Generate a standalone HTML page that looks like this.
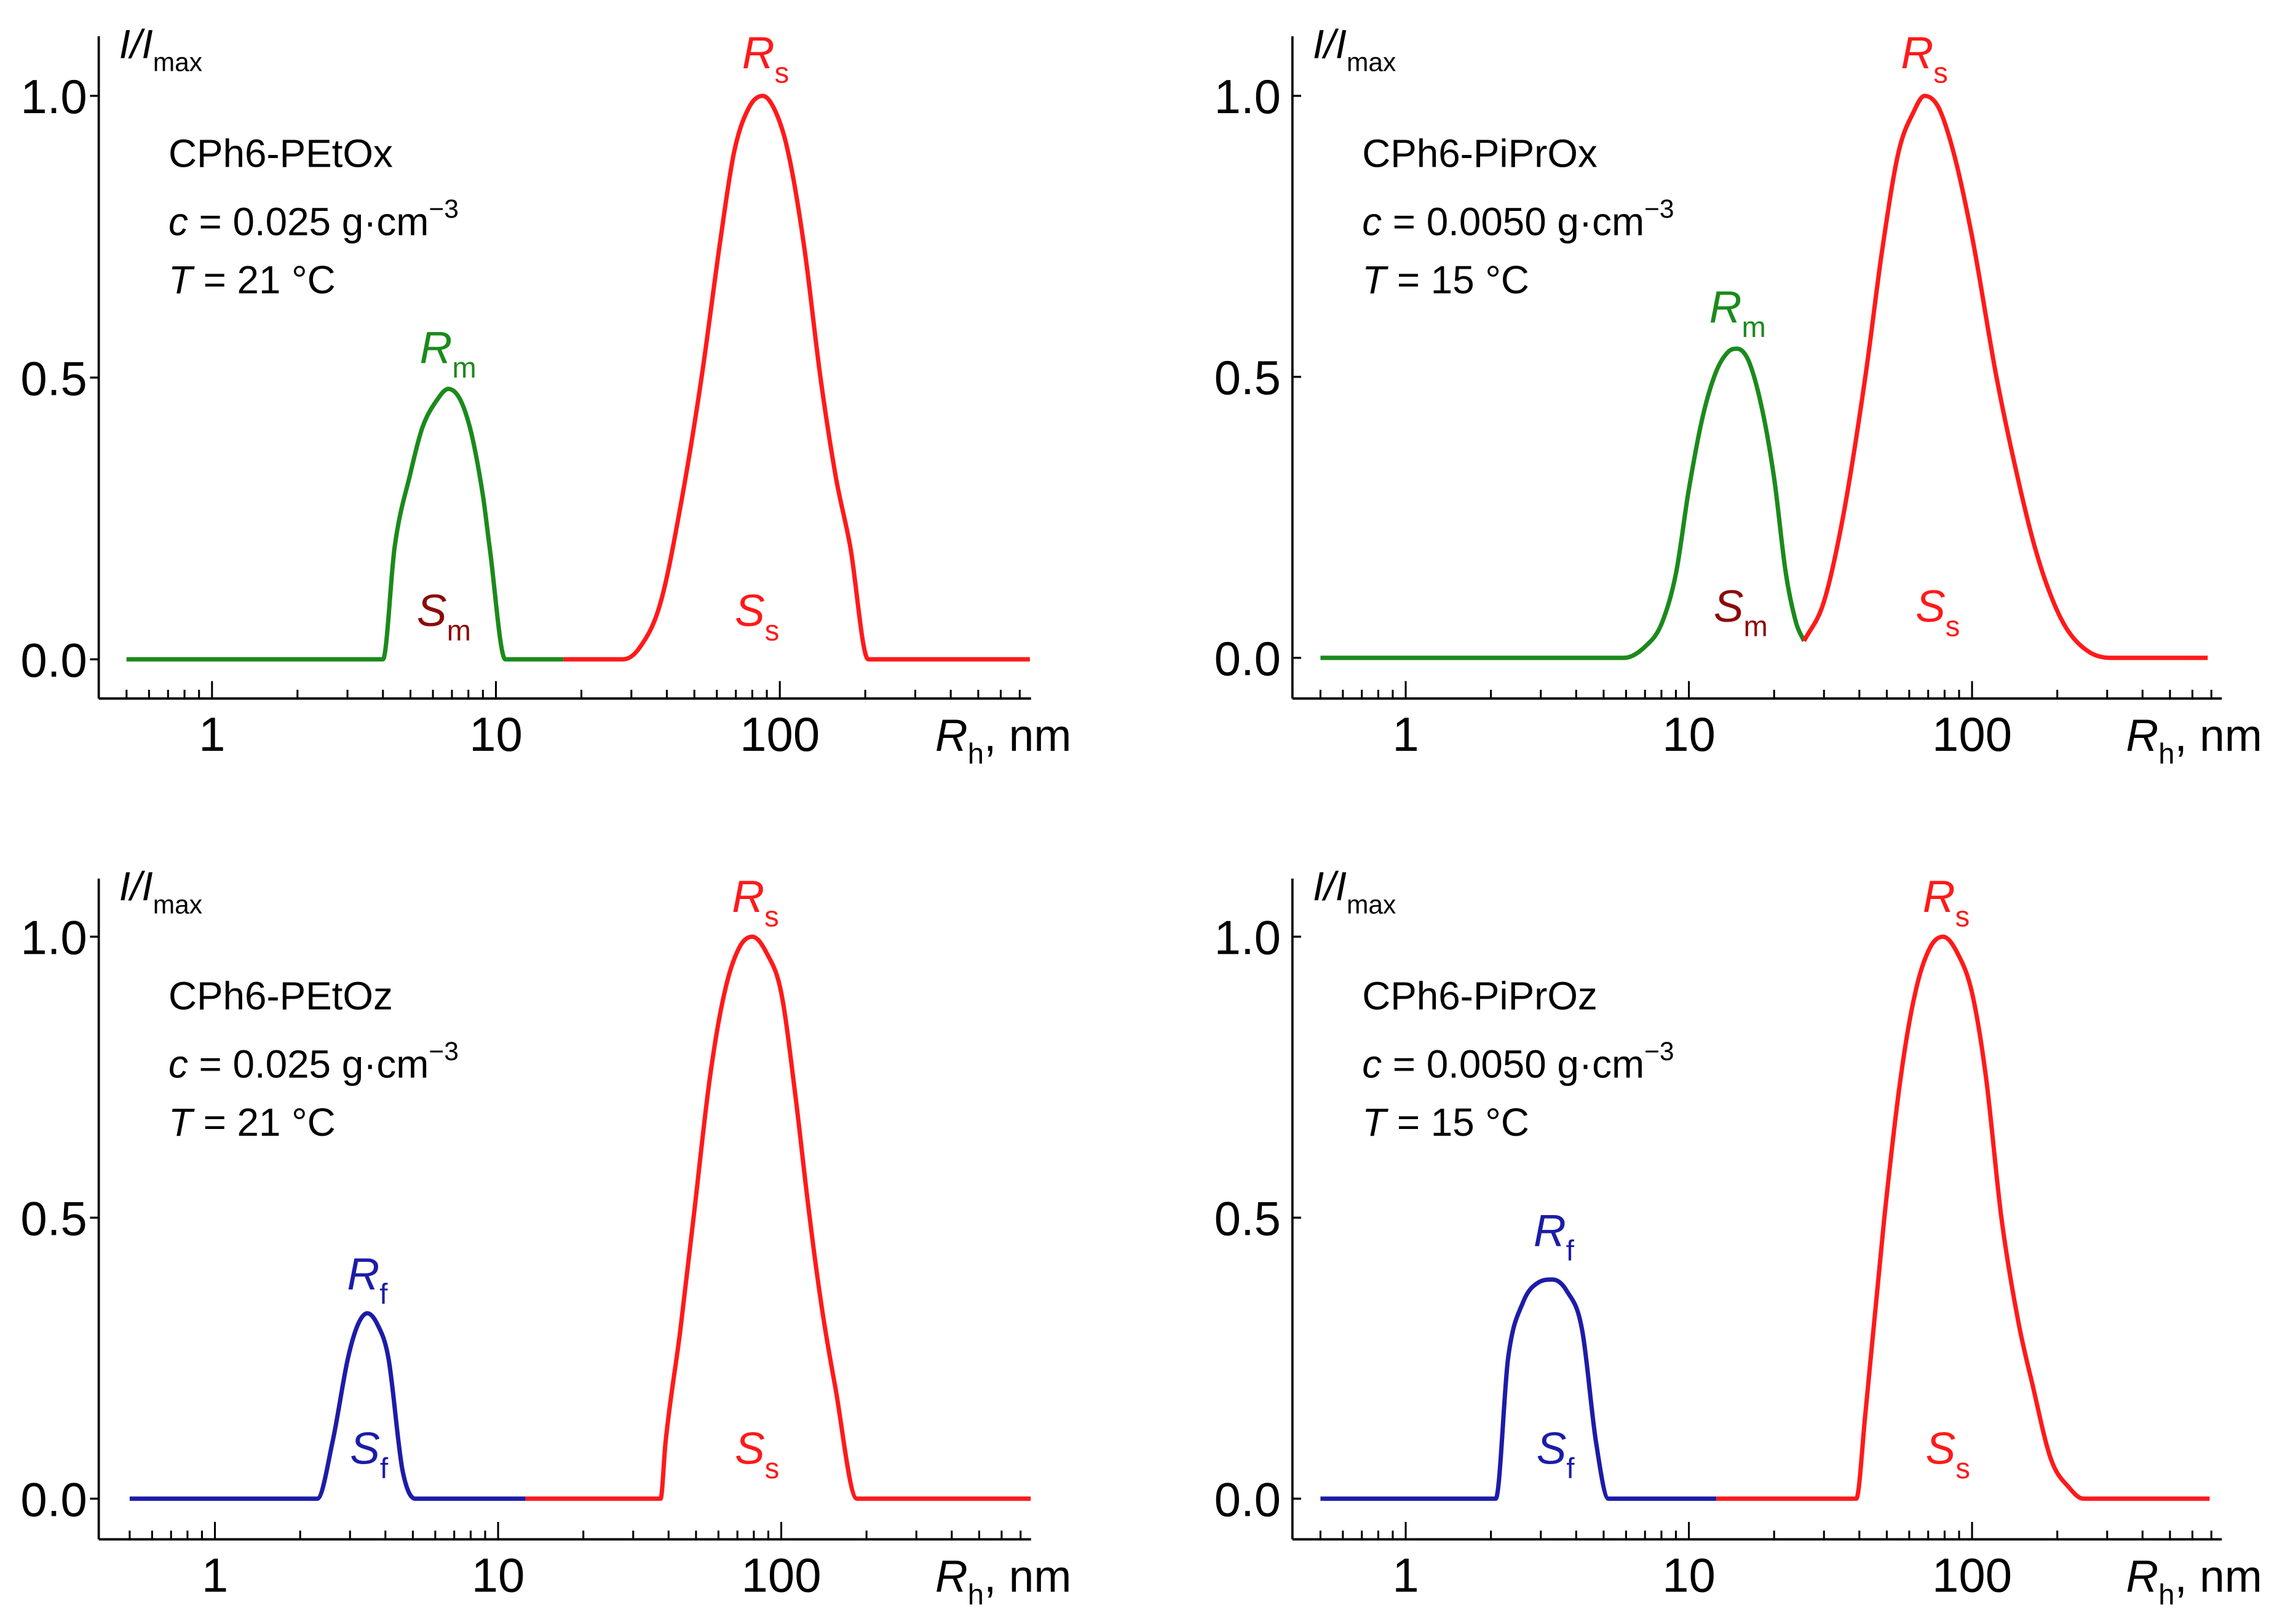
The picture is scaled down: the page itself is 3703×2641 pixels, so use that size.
<!DOCTYPE html>
<html><head><meta charset="utf-8"><style>
html,body{margin:0;padding:0;background:#fff}
svg{display:block}
text{font-family:"Liberation Sans",Arial,sans-serif}
</style></head><body>
<svg id="fig" width="3703" height="2641" viewBox="0 0 1568 1118.3" xmlns="http://www.w3.org/2000/svg"></svg>
<script>
// Data: log-spaced Rh (nm) and normalized intensity per curve segment
const p1GreenR = [0.5, 4.0, 4.4, 5.0, 5.5, 6.2, 6.8, 7.5, 8.2, 9.0, 9.5, 10.8, 17.3];
const p1GreenI = [0, 0, 0.2, 0.33, 0.41, 0.46, 0.48, 0.46, 0.4, 0.29, 0.2, 0, 0];
const p1RedR = [17.3, 28, 32, 38, 45, 53, 62, 69, 78, 87, 97, 107, 122, 139, 158, 177, 205, 760];
const p1RedI = [0, 0, 0.02, 0.1, 0.28, 0.5, 0.75, 0.9, 0.98, 1.0, 0.97, 0.9, 0.73, 0.5, 0.32, 0.2, 0, 0];

const p2GreenR = [0.5, 5.9, 7.0, 8.0, 9.0, 10.0, 11.2, 12.5, 13.8, 14.8, 16.2, 18, 20, 22, 24, 25.5];
const p2GreenI = [0, 0, 0.02, 0.06, 0.15, 0.3, 0.43, 0.51, 0.545, 0.55, 0.53, 0.45, 0.32, 0.15, 0.06, 0.03];
const p2RedR = [25.5, 30, 35, 42, 48, 55, 62, 68, 76, 86, 100, 122, 145, 166, 190, 217, 260, 310, 680];
const p2RedI = [0.03, 0.1, 0.25, 0.5, 0.72, 0.9, 0.97, 1.0, 0.98, 0.9, 0.75, 0.5, 0.32, 0.2, 0.11, 0.05, 0.01, 0, 0];

const p3BlueR = [0.5, 2.3, 2.6, 2.95, 3.2, 3.45, 3.75, 4.1, 4.6, 5.1, 12.5];
const p3BlueI = [0, 0, 0.1, 0.25, 0.31, 0.33, 0.31, 0.25, 0.05, 0, 0];
const p3RedR = [12.5, 37.5, 39, 44, 49, 56, 63, 71, 79, 89, 100, 112, 126, 140, 155, 185, 760];
const p3RedI = [0, 0, 0.1, 0.3, 0.5, 0.75, 0.9, 0.98, 1.0, 0.97, 0.9, 0.72, 0.5, 0.33, 0.2, 0, 0];

const p4BlueR = [0.5, 2.08, 2.3, 2.6, 2.95, 3.3, 3.7, 4.2, 4.7, 5.2, 12.5];
const p4BlueI = [0, 0, 0.25, 0.35, 0.385, 0.39, 0.37, 0.3, 0.1, 0, 0];
const p4RedR = [12.5, 39, 42, 49, 56, 63, 71, 79, 89, 100, 112, 127, 145, 164, 190, 220, 247, 690];
const p4RedI = [0, 0, 0.15, 0.5, 0.75, 0.9, 0.98, 1.0, 0.97, 0.9, 0.75, 0.5, 0.32, 0.2, 0.07, 0.02, 0, 0];

const yTickValues = [0, 0.5, 1.0];
const yTickLabels = ["0.0", "0.5", "1.0"];
const xTickValues = [1, 10, 100];
const xTickLabels = ["1", "10", "100"];

const RED = "#ff1a1a", GREEN = "#1b8a1b", BLUE = "#1c1ca8", DARKRED = "#8b0b0b";
const NS = "http://www.w3.org/2000/svg";
const svg = document.getElementById("fig");

function el(tag, attrs, parent) {
  const e = document.createElementNS(NS, tag);
  for (const k in attrs) e.setAttribute(k, attrs[k]);
  (parent || svg).appendChild(e);
  return e;
}

// monotone cubic path through screen points
function monoPath(X, Y) {
  const n = X.length;
  const d = [], m = [];
  for (let i = 0; i < n - 1; i++) d.push((Y[i+1]-Y[i])/(X[i+1]-X[i]));
  m[0] = d[0]; m[n-1] = d[n-2];
  for (let i = 1; i < n - 1; i++) m[i] = (d[i-1]*d[i] <= 0) ? 0 : (d[i-1]+d[i])/2;
  for (let i = 0; i < n - 1; i++) {
    if (d[i] === 0) { m[i] = 0; m[i+1] = 0; continue; }
    const a = m[i]/d[i], b = m[i+1]/d[i], s = a*a + b*b;
    if (s > 9) { const t = 3/Math.sqrt(s); m[i] = t*a*d[i]; m[i+1] = t*b*d[i]; }
  }
  let p = "M" + X[0].toFixed(1) + "," + Y[0].toFixed(1);
  for (let i = 0; i < n - 1; i++) {
    const h = (X[i+1]-X[i])/3;
    p += " C" + (X[i]+h).toFixed(1) + "," + (Y[i]+m[i]*h).toFixed(1) + " " +
         (X[i+1]-h).toFixed(1) + "," + (Y[i+1]-m[i+1]*h).toFixed(1) + " " +
         X[i+1].toFixed(1) + "," + Y[i+1].toFixed(1);
  }
  return p;
}

const panels = [
  {id:"top-left", ax:68, top:25, right:710, xAxisY:481, x1:146, dec:195.5, y0:454, y1:66, ytickIn:false,
   series:[[p1GreenR,p1GreenI,GREEN,"green-curve"],[p1RedR,p1RedI,RED,"red-curve"]],
   name:"CPh6-PEtOx", conc:"0.025", temp:"21",
   labels:[["R","m",GREEN,289,250],["S","m",DARKRED,287,431],["R","s",RED,511,47],["S","s",RED,506,431]]},
  {id:"top-right", ax:890, top:25, right:1530, xAxisY:481, x1:968, dec:195, y0:453, y1:66, ytickIn:true,
   series:[[p2GreenR,p2GreenI,GREEN,"green-curve"],[p2RedR,p2RedI,RED,"red-curve"]],
   name:"CPh6-PiPrOx", conc:"0.0050", temp:"15",
   labels:[["R","m",GREEN,1177,222],["S","m",DARKRED,1180,428],["R","s",RED,1309,47],["S","s",RED,1319,428]]},
  {id:"bottom-left", ax:68, top:605, right:710, xAxisY:1060, x1:148, dec:195, y0:1032, y1:645, ytickIn:false,
   series:[[p3BlueR,p3BlueI,BLUE,"blue-curve"],[p3RedR,p3RedI,RED,"red-curve"]],
   name:"CPh6-PEtOz", conc:"0.025", temp:"21",
   labels:[["R","f",BLUE,239,888],["S","f",BLUE,241,1008],["R","s",RED,504,628],["S","s",RED,506,1008]]},
  {id:"bottom-right", ax:890, top:605, right:1530, xAxisY:1060, x1:968, dec:195, y0:1032, y1:645, ytickIn:true,
   series:[[p4BlueR,p4BlueI,BLUE,"blue-curve"],[p4RedR,p4RedI,RED,"red-curve"]],
   name:"CPh6-PiPrOz", conc:"0.0050", temp:"15",
   labels:[["R","f",BLUE,1056,858],["S","f",BLUE,1058,1008],["R","s",RED,1324,628],["S","s",RED,1326,1008]]}
];

panels.forEach(P => {
  const g = el("g", {});
  
  
  const xs = v => P.x1 + Math.log10(v) * P.dec;
  const ys = v => P.y0 + (P.y1 - P.y0) * v;

  const ya = el("line", {x1:P.ax, y1:P.top, x2:P.ax, y2:P.xAxisY, stroke:"#000", "stroke-width":1.6}, g);
  
  
  const xa = el("line", {x1:P.ax, y1:P.xAxisY, x2:P.right, y2:P.xAxisY, stroke:"#000", "stroke-width":1.6}, g);
  
  

  yTickValues.forEach((v, i) => {
    const y = ys(v);
    const dx = P.ytickIn ? 6 : -6;
    el("line", {x1:P.ax, y1:y, x2:P.ax + dx, y2:y, stroke:"#000", "stroke-width":1.4}, g);
    const t = el("text", {x:P.ax - 8, y:y + 12, "font-size":33, "text-anchor":"end", fill:"#000"}, g);
    t.textContent = yTickLabels[i];
    
    
  });

  for (let d = -1; d <= 2; d++) {
    for (let m = 1; m <= 9; m++) {
      const v = m * Math.pow(10, d);
      if (v < 0.5 || v > 900) continue;
      const x = xs(v);
      if (x > P.right - 2) continue;
      const len = m === 1 ? 12 : 6;
      el("line", {x1:x, y1:P.xAxisY, x2:x, y2:P.xAxisY - len, stroke:"#000", "stroke-width":1.3}, g);
    }
  }
  xTickValues.forEach((v, i) => {
    const t = el("text", {x:xs(v), y:P.xAxisY + 36, "font-size":33, "text-anchor":"middle", fill:"#000"}, g);
    t.textContent = xTickLabels[i];
    
    
  });

  const xt = el("text", {x:P.right - 66, y:P.xAxisY + 36, "font-size":31, fill:"#000"}, g);
  xt.innerHTML = '<tspan font-style="italic">R</tspan><tspan font-size="20" dy="9">h</tspan><tspan dy="-9">, nm</tspan>';
  
  

  const yt = el("text", {x:P.ax + 14, y:P.top + 15, "font-size":28, fill:"#000"}, g);
  yt.innerHTML = '<tspan font-style="italic">I/I</tspan><tspan font-size="18" dy="9">max</tspan>';
  
  

  const a1 = el("text", {x:P.ax + 48, y:P.top + 90, "font-size":27, fill:"#000"}, g);
  a1.textContent = P.name;
  
  
  const a2 = el("text", {x:P.ax + 48, y:P.top + 137, "font-size":27, fill:"#000"}, g);
  a2.innerHTML = '<tspan font-style="italic">c</tspan> = ' + P.conc + ' g\u00b7cm<tspan font-size="18" dy="-12">\u22123</tspan>';
  
  
  const a3 = el("text", {x:P.ax + 48, y:P.top + 177, "font-size":27, fill:"#000"}, g);
  a3.innerHTML = '<tspan font-style="italic">T</tspan> = ' + P.temp + ' \u00b0C';
  
  

  P.series.forEach(s => {
    const [R, I, col, nm] = s;
    const X = R.map(r => xs(r)), Y = I.map(v => ys(v));
    const pl = el("path", {d:monoPath(X, Y), fill:"none", stroke:col, "stroke-width":3, "stroke-linejoin":"round"}, g);
    
    
  });

  P.labels.forEach(L => {
    const t = el("text", {x:L[3], y:L[4], "font-size":31, fill:L[2]}, g);
    t.innerHTML = '<tspan font-style="italic">' + L[0] + '</tspan><tspan font-size="20" dy="10">' + L[1] + '</tspan>';
    
    
  });
});
</script>
</body></html>
